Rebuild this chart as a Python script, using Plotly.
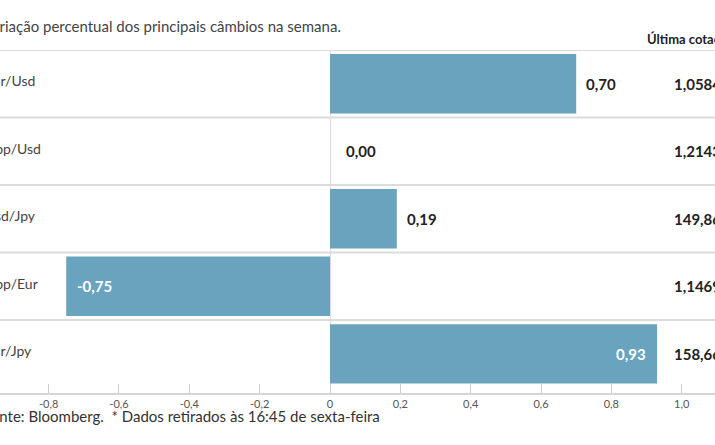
import plotly.graph_objects as go

pairs = ["Eur/Usd", "Gbp/Usd", "Usd/Jpy", "Gbp/Eur", "Eur/Jpy"]
changes = [0.70, 0.00, 0.19, -0.75, 0.93]
change_labels = ["0,70", "0,00", "0,19", "-0,75", "0,93"]
last_quotes = ["1,0584", "1,2143", "149,86", "1,1469", "158,66"]
tick_vals = [-0.8, -0.6, -0.4, -0.2, 0, 0.2, 0.4, 0.6, 0.8, 1.0]
tick_text = ["-0,8", "-0,6", "-0,4", "-0,2", "0", "0,2", "0,4", "0,6", "0,8", "1,0"]

title_text = "Variação percentual dos principais câmbios na semana."
source_text = "Fonte: Bloomberg.  * Dados retirados às 16:45 de sexta-feira"
quote_header = "Última cotação*"

W, H = 715, 445
FONT = "Lato"
BAR = "#69a3be"

fig = go.Figure()
fig.add_trace(go.Bar(
    x=changes, y=pairs, orientation="h", width=0.88,
    marker=dict(color=BAR, line=dict(width=0)),
    hoverinfo="skip",
))

ann = []
ann.append(dict(text=title_text, xref="paper", yref="paper", x=-19 / W, y=1,
                yshift=24, xanchor="left", yanchor="middle", showarrow=False,
                font=dict(family=FONT, size=15, color="#444")))
ann.append(dict(text=source_text, xref="paper", yref="paper", x=-19 / W, y=0,
                yshift=-23, xanchor="left", yanchor="middle", showarrow=False,
                font=dict(family=FONT, size=15, color="#333")))
ann.append(dict(text="<b>" + quote_header + "</b>", xref="paper", yref="paper",
                x=645 / W, y=1, yshift=11, xanchor="left", yanchor="middle",
                showarrow=False, font=dict(family=FONT, size=13, color="#222")))

for p, v, lab, q in zip(pairs, changes, change_labels, last_quotes):
    ann.append(dict(text=p, xref="paper", yref="y", x=-17 / W, y=p, yshift=3,
                    xanchor="left", yanchor="middle", showarrow=False,
                    font=dict(family=FONT, size=14, color="#444")))
    if abs(v) > 0.72:
        if v > 0:
            ann.append(dict(text="<b>" + lab + "</b>", xref="x", yref="y", x=v, y=p,
                            xshift=-9, xanchor="right", yanchor="middle",
                            showarrow=False,
                            font=dict(family=FONT, size=15, color="white")))
        else:
            ann.append(dict(text="<b>" + lab + "</b>", xref="x", yref="y", x=v, y=p,
                            xshift=9, xanchor="left", yanchor="middle",
                            showarrow=False,
                            font=dict(family=FONT, size=15, color="white")))
    else:
        ann.append(dict(text="<b>" + lab + "</b>", xref="x", yref="y", x=max(v, 0),
                        y=p, xshift=8 if v > 0 else 14, xanchor="left",
                        yanchor="middle", showarrow=False,
                        font=dict(family=FONT, size=15, color="#222")))
    ann.append(dict(text="<b>" + q + "</b>", xref="paper", yref="y", x=672 / W,
                    y=p, xanchor="left", yanchor="middle", showarrow=False,
                    font=dict(family=FONT, size=15, color="#222")))

shapes = []
for i in range(len(pairs)):
    shapes.append(dict(type="line", xref="paper", yref="y", x0=0, x1=1,
                       y0=i - 0.5, y1=i - 0.5, layer="below",
                       line=dict(color="#dcdcdc", width=2)))

fig.update_layout(
    width=W, height=H,
    margin=dict(l=0, r=0, t=50, b=52),
    paper_bgcolor="white", plot_bgcolor="white",
    showlegend=False,
    annotations=ann, shapes=shapes,
    font=dict(family=FONT),
    xaxis=dict(range=[-330 / 351.7, 385 / 351.7], tickvals=tick_vals,
               ticktext=tick_text, showgrid=False, zeroline=True,
               zerolinecolor="#dcdcdc", zerolinewidth=1,
               showline=True, linecolor="#d6d6d6", linewidth=2,
               ticks="inside", ticklen=9, tickcolor="#cfcfcf", tickwidth=1,
               tickfont=dict(family=FONT, size=11, color="#555"),
               fixedrange=True),
    yaxis=dict(categoryorder="array", categoryarray=pairs,
               range=[4.58, -0.5], autorange=False, showticklabels=False,
               showgrid=False, zeroline=False, showline=False, ticks="",
               fixedrange=True),
)

fig.write_html("out.html", config={"displayModeBar": False},
               post_script="document.body.style.margin='0';document.body.style.overflow='hidden';")
